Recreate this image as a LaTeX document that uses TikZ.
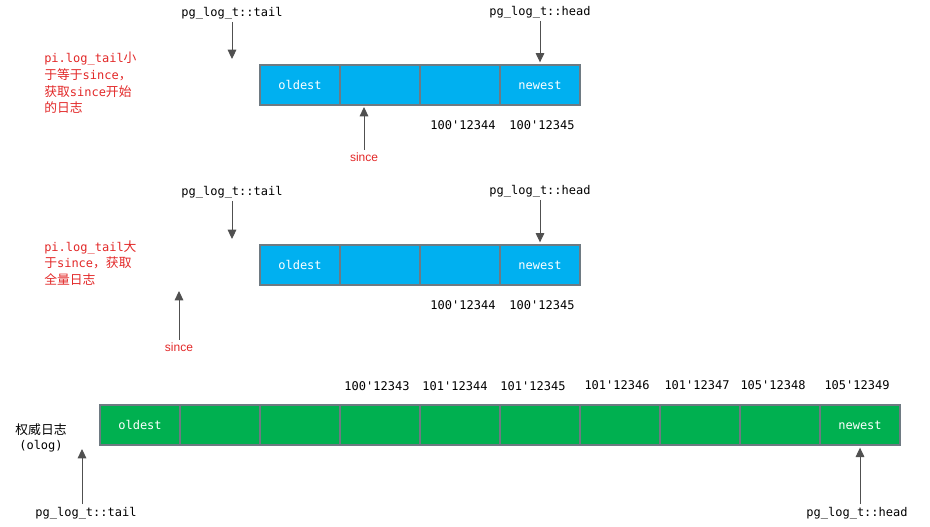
\documentclass[tikz,border=0pt]{standalone}
\usepackage{fontspec}
\setmonofont{DejaVu Sans Mono}
\setsansfont{Liberation Sans}
\newfontfamily\cjk{Noto Sans CJK SC}
\newcommand{\zh}[1]{{\cjk\fontsize{9.6pt}{12.5pt}\selectfont #1}}
\usetikzlibrary{arrows.meta,positioning}
\definecolor{logblue}{RGB}{0,176,240}
\definecolor{loggreen}{RGB}{0,176,80}
\definecolor{cellborder}{RGB}{110,122,130}
\definecolor{notered}{RGB}{226,40,40}
\definecolor{ptrgray}{RGB}{80,80,80}
\tikzstyle{bluecell}  = [rectangle, draw=cellborder, fill=logblue, line width=0.9pt, outer sep=0pt, minimum width=60pt, minimum height=30pt, text=white, font=\ttfamily\fontsize{9pt}{11pt}\selectfont]
\tikzstyle{greencell} = [bluecell, fill=loggreen]
\tikzstyle{ptrlabel}  = [inner sep=2pt, font=\ttfamily\fontsize{9pt}{11pt}\selectfont]
\tikzstyle{seqno}     = [ptrlabel]
\tikzstyle{since}     = [inner sep=2pt, text=notered, font=\sffamily\fontsize{9pt}{11pt}\selectfont]
\tikzstyle{note}      = [anchor=north west, align=left, inner sep=0pt, text=notered, font=\ttfamily\fontsize{9pt}{12.5pt}\selectfont]
\tikzstyle{ptr}       = [draw=ptrgray, line width=0.75pt, -{Triangle[width=6.5pt,length=7pt]}]

\begin{document}
\begin{tikzpicture}[x=0.75pt, y=-0.75pt]
  \useasboundingbox (0,0) rectangle (930,526);

  % pi.log_tail <= since
  \node[bluecell] (a1) at (300,85) {oldest};
  \node[bluecell, right=0pt of a1] (a2) {};
  \node[bluecell, right=0pt of a2] (a3) {};
  \node[bluecell, right=0pt of a3] (a4) {newest};
  \node[ptrlabel] (tail1) at (232,13) {pg\_log\_t::tail};
  \node[ptrlabel] (head1) at (540,12) {pg\_log\_t::head};
  \node[seqno] (a3no) at (463,125) {100'12344};
  \node[seqno] (a4no) at (542,125) {100'12345};
  \node[since] (since1) at (364,157) {since};
  \node[note] (note1) at (44,52) {pi.log\_tail\zh{小}\\\zh{于等于}since\zh{，}\\\zh{获取}since\zh{开始}\\\zh{的日志}};
  \coordinate (tail1end) at (232,59);
  \coordinate (since1end) at (364,107);
  \draw[ptr] (tail1) -- (tail1end);
  \draw[ptr, shorten >=2pt] (head1) -- (a4);
  \draw[ptr] (since1) -- (since1end);

  % pi.log_tail > since
  \node[bluecell] (b1) at (300,265) {oldest};
  \node[bluecell, right=0pt of b1] (b2) {};
  \node[bluecell, right=0pt of b2] (b3) {};
  \node[bluecell, right=0pt of b3] (b4) {newest};
  \node[ptrlabel] (tail2) at (232,192) {pg\_log\_t::tail};
  \node[ptrlabel] (head2) at (540,191) {pg\_log\_t::head};
  \node[seqno] (b3no) at (463,305) {100'12344};
  \node[seqno] (b4no) at (542,305) {100'12345};
  \node[since] (since2) at (179,347) {since};
  \node[note] (note2) at (44,240) {pi.log\_tail\zh{大}\\\zh{于}since\zh{，获取}\\\zh{全量日志}};
  \coordinate (tail2end) at (232,239);
  \coordinate (since2end) at (179,291);
  \draw[ptr] (tail2) -- (tail2end);
  \draw[ptr, shorten >=2pt] (head2) -- (b4);
  \draw[ptr] (since2) -- (since2end);

  % olog
  \node[greencell] (c1) at (140,425) {oldest};
  \node[greencell, right=0pt of c1] (c2) {};
  \node[greencell, right=0pt of c2] (c3) {};
  \node[greencell, right=0pt of c3] (c4) {};
  \node[greencell, right=0pt of c4] (c5) {};
  \node[greencell, right=0pt of c5] (c6) {};
  \node[greencell, right=0pt of c6] (c7) {};
  \node[greencell, right=0pt of c7] (c8) {};
  \node[greencell, right=0pt of c8] (c9) {};
  \node[greencell, right=0pt of c9] (c10) {newest};
  \node[seqno] (c4no) at (377,386) {100'12343};
  \node[seqno] (c5no) at (455,386) {101'12344};
  \node[seqno] (c6no) at (533,386) {101'12345};
  \node[seqno] (c7no) at (617,385) {101'12346};
  \node[seqno] (c8no) at (697,385) {101'12347};
  \node[seqno] (c9no) at (773,385) {105'12348};
  \node[seqno] (c10no) at (857,385) {105'12349};
  \node[ptrlabel, align=center] (olog) at (41,438) {\zh{权威日志}\\(olog)};
  \node[ptrlabel] (tail3) at (86,513) {pg\_log\_t::tail};
  \node[ptrlabel] (head3) at (857,513) {pg\_log\_t::head};
  \coordinate (tail3end) at (82,449);
  \draw[ptr] (tail3end |- tail3.north) -- (tail3end);
  \draw[ptr, shorten >=2pt] (c10 |- head3.north) -- (c10.south);
\end{tikzpicture}
\end{document}
